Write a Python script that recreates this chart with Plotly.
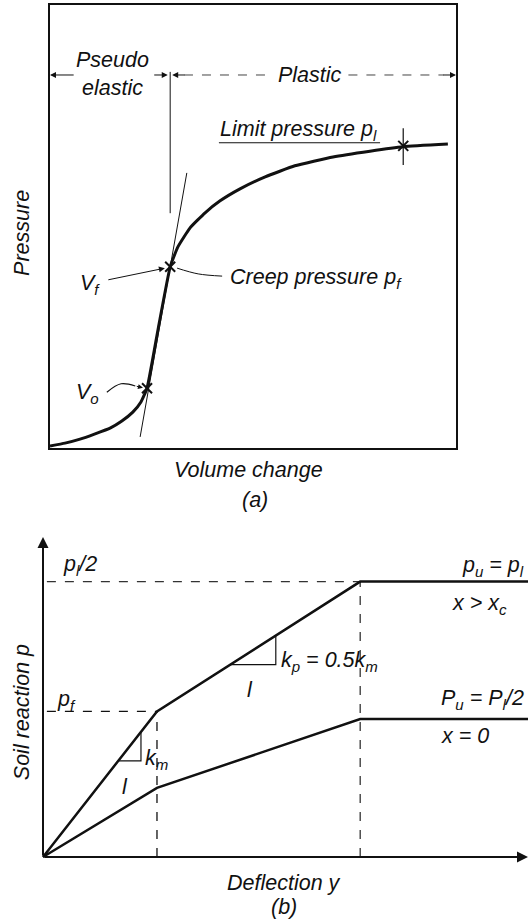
import plotly.graph_objects as go

# ---------------- data: (a) pressuremeter curve ----------------
vol_change = [0, 3.7, 7.4, 11.1, 14.8, 17.7, 20.4, 22.4, 23.9, 26.7, 29.6, 31.5, 34.5, 38.2,
              41.9, 46.8, 53.0, 60.3, 69.7, 78.8, 87.0, 98.0]
pressure = [0.45, 1.1, 2.0, 3.2, 4.5, 6.1, 8.1, 10.4, 13.5, 27.2, 40.9, 45.4, 49.7, 53.1,
            55.8, 58.5, 61.2, 63.7, 65.7, 67.0, 68.0, 68.6]

v_o = (23.9, 13.5)        # start of pseudo-elastic range
v_f = (29.6, 40.9)        # creep pressure point
limit_pt = (87.0, 68.2)   # limit pressure point
tangent_x = [33.7, 22.2]
tangent_y = [62.1, 2.5]
boundary_x = 29.6         # pseudo-elastic / plastic boundary

# ---------------- data: (b) p-y curves ----------------
y_f = 23.5                # deflection at creep pressure
y_u = 65.4                # deflection where ultimate reaction is reached
p_f = 45.5                # creep pressure
k_m = p_f / y_f
k_p = 0.5 * k_m
p_top = p_f + k_p * (y_u - y_f)   # p_l/2 level
p_low_f = 21.6            # x = 0 curve at y_f
p_low_u = 43.1            # x = 0 plateau
y_end = 100

upper_x = [0, y_f, y_u, y_end]
upper_p = [0, p_f, p_top, p_top]
lower_x = [0, y_f, y_u, y_end]
lower_p = [0, p_low_f, p_low_u, p_low_u]

FONT = "Liberation Sans"
FS = 21.5
BLACK = "#111111"

fig = go.Figure()

# ---- panel (a) ----
fig.add_trace(go.Scatter(x=tangent_x, y=tangent_y, mode="lines",
                         line=dict(color=BLACK, width=1), xaxis="x", yaxis="y"))
fig.add_trace(go.Scatter(x=vol_change, y=pressure, mode="lines",
                         line=dict(color=BLACK, width=3, shape="spline", smoothing=0.4),
                         xaxis="x", yaxis="y"))
fig.add_trace(go.Scatter(x=[boundary_x, boundary_x], y=[84.9, 53.0], mode="lines",
                         line=dict(color=BLACK, width=1), xaxis="x", yaxis="y"))
fig.add_trace(go.Scatter(x=[v_o[0], v_f[0], limit_pt[0]], y=[v_o[1], v_f[1], limit_pt[1]],
                         mode="markers", marker=dict(symbol="x-thin", size=10,
                                                     line=dict(color=BLACK, width=2)),
                         xaxis="x", yaxis="y"))
fig.add_trace(go.Scatter(x=[limit_pt[0], limit_pt[0]], y=[72.2, 63.9], mode="lines",
                         line=dict(color=BLACK, width=1.2), xaxis="x", yaxis="y"))
# underline of the limit pressure label
fig.add_trace(go.Scatter(x=[41.6, 81.3], y=[68.9, 68.9], mode="lines",
                         line=dict(color=BLACK, width=1.2), xaxis="x", yaxis="y"))
# leader from creep point to label
fig.add_trace(go.Scatter(x=[31.3, 36.5, 42.4], y=[40.6, 39.3, 38.8], mode="lines",
                         line=dict(color=BLACK, width=1, shape="spline"), xaxis="x", yaxis="y"))
# curved pointer for V_o
fig.add_trace(go.Scatter(x=[14.0, 17.5, 21.0], y=[12.6, 14.5, 14.0], mode="lines",
                         line=dict(color=BLACK, width=1.2, shape="spline"), xaxis="x", yaxis="y"))
# dashed range line for the plastic zone
fig.add_trace(go.Scatter(x=[33, 55.0], y=[84.2, 84.2], mode="lines",
                         line=dict(color="#444", width=1, dash="dash"), xaxis="x", yaxis="y"))
fig.add_trace(go.Scatter(x=[73.5, 97], y=[84.2, 84.2], mode="lines",
                         line=dict(color="#444", width=1, dash="dash"), xaxis="x", yaxis="y"))

# ---- panel (b) ----
fig.add_trace(go.Scatter(x=[0.8, y_f], y=[p_f, p_f], mode="lines",
                         line=dict(color=BLACK, width=1.3, dash="dash"), xaxis="x2", yaxis="y2"))
fig.add_trace(go.Scatter(x=[0.8, y_u], y=[p_top, p_top], mode="lines",
                         line=dict(color="#333", width=1.3, dash="dash"), xaxis="x2", yaxis="y2"))
fig.add_trace(go.Scatter(x=[y_f, y_f], y=[0, p_f], mode="lines",
                         line=dict(color=BLACK, width=1.3, dash="dash"), xaxis="x2", yaxis="y2"))
fig.add_trace(go.Scatter(x=[y_u, y_u], y=[0, p_top], mode="lines",
                         line=dict(color="#333", width=1.3, dash="dash"), xaxis="x2", yaxis="y2"))
fig.add_trace(go.Scatter(x=upper_x, y=upper_p, mode="lines",
                         line=dict(color=BLACK, width=2.5), xaxis="x2", yaxis="y2"))
fig.add_trace(go.Scatter(x=lower_x, y=lower_p, mode="lines",
                         line=dict(color=BLACK, width=2.5), xaxis="x2", yaxis="y2"))

# slope triangles
km_x0, km_x1 = 15.5, 20.2
fig.add_trace(go.Scatter(x=[km_x0, km_x1, km_x1], y=[k_m * km_x0, k_m * km_x0, k_m * km_x1],
                         mode="lines", line=dict(color=BLACK, width=1.2), xaxis="x2", yaxis="y2"))
kp_x0, kp_x1 = 38.6, 48.0
kp_y0 = p_f + k_p * (kp_x0 - y_f)
kp_y1 = p_f + k_p * (kp_x1 - y_f)
fig.add_trace(go.Scatter(x=[kp_x0, kp_x1, kp_x1], y=[kp_y0, kp_y0, kp_y1],
                         mode="lines", line=dict(color=BLACK, width=1.2), xaxis="x2", yaxis="y2"))


def txt(x, y, s, ref="", xanchor="center", size=FS, angle=0):
    d = dict(x=x, y=y, text=s, showarrow=False, xanchor=xanchor, yanchor="middle",
             font=dict(family=FONT, size=size, color=BLACK), textangle=angle)
    if ref == "paper":
        d.update(xref="paper", yref="paper")
    elif ref == "b":
        d.update(xref="x2", yref="y2")
    else:
        d.update(xref="x", yref="y")
    return d


def arrow(x, y, ax, ay, ref="a", width=1, head=2, size=1.2):
    xr, yr = ("x", "y") if ref == "a" else ("x2", "y2")
    return dict(x=x, y=y, ax=ax, ay=ay, xref=xr, yref=yr, axref=xr, ayref=yr, text="",
                showarrow=True, arrowhead=head, arrowsize=size, arrowwidth=width,
                arrowcolor=BLACK)


ann = [
    # panel (a)
    txt(15.5, 84.4, "<i>Pseudo<br>elastic</i>"),
    txt(64.0, 84.2, "<i>Plastic</i>"),
    txt(41.3, 71.6, "<i>Limit pressure p<sub>l</sub></i>", xanchor="left"),
    txt(43.8, 38.3, "<i>Creep pressure p<sub>f</sub></i>", xanchor="left"),
    txt(9.8, 37.0, "<i>V<sub>f</sub></i>"),
    txt(9.3, 12.4, "<i>V<sub>o</sub></i>"),
    arrow(0, 84.2, 6.2, 84.2),
    arrow(29.0, 84.2, 25.3, 84.2),
    arrow(30.1, 84.2, 33.5, 84.2),
    arrow(100, 84.2, 96.5, 84.2),
    arrow(28.3, 40.6, 14.0, 37.9),
    arrow(22.9, 13.6, 21.0, 14.0, size=1.0),
    txt(0.042, 0.747, "<i>Pressure</i>", ref="paper", angle=-90),
    txt(0.47, 0.489, "<i>Volume change</i>", ref="paper"),
    txt(0.483, 0.456, "<i>(a)</i>", ref="paper"),
    # panel (b)
    arrow(0, 100, 0, 0, ref="b", width=2, head=2, size=1.1),
    arrow(100, 0, 0, 0, ref="b", width=2, head=2, size=1.1),
    txt(7.6, 91.2, "<i>p<sub>l</sub>/2</i>", ref="b"),
    txt(4.9, 49.0, "<i>p<sub>f</sub></i>", ref="b"),
    txt(20.6, 30.5, "<i>k<sub>m</sub></i>", ref="b", xanchor="left"),
    txt(16.9, 22.0, "<i>l</i>", ref="b"),
    txt(48.6, 61.0, "<i>k<sub>p</sub> = 0.5k<sub>m</sub></i>", ref="b", xanchor="left"),
    txt(42.7, 52.2, "<i>l</i>", ref="b"),
    txt(99.5, 90.8, "<i>p<sub>u</sub> = p<sub>l</sub></i>", ref="b", xanchor="right"),
    txt(90.0, 79.0, "<i>x > x<sub>c</sub></i>", ref="b"),
    txt(99.5, 49.2, "<i>P<sub>u</sub> = P<sub>l</sub>/2</i>", ref="b", xanchor="right"),
    txt(87.0, 37.8, "<i>x = 0</i>", ref="b"),
    txt(0.042, 1 - 712 / 920, "<i>Soil reaction p</i>", ref="paper", angle=-90),
    txt(0.538, 1 - 883 / 920, "<i>Deflection y</i>", ref="paper"),
    txt(0.538, 1 - 907 / 920, "<i>(b)</i>", ref="paper"),
]

W, H = 528, 920
hidden = dict(showgrid=False, zeroline=False, showticklabels=False, ticks="")
fig.update_layout(
    width=W, height=H, margin=dict(l=0, r=0, t=0, b=0),
    paper_bgcolor="white", plot_bgcolor="white", showlegend=False,
    xaxis=dict(domain=[50 / W, 456 / W], range=[0, 100], showline=True, mirror=True,
               linecolor=BLACK, linewidth=2, **hidden),
    yaxis=dict(domain=[1 - 448 / H, 1 - 5 / H], range=[0, 100], showline=True, mirror=True,
               linecolor=BLACK, linewidth=2, **hidden),
    xaxis2=dict(domain=[(43 - 2 * 4.85) / W, 1.0], range=[-2, 100], visible=False),
    yaxis2=dict(domain=[1 - (857 + 3 * 3.2) / H, 1 - 537 / H], range=[-3, 100], visible=False),
    annotations=ann,
)

fig.write_html("out.html")
